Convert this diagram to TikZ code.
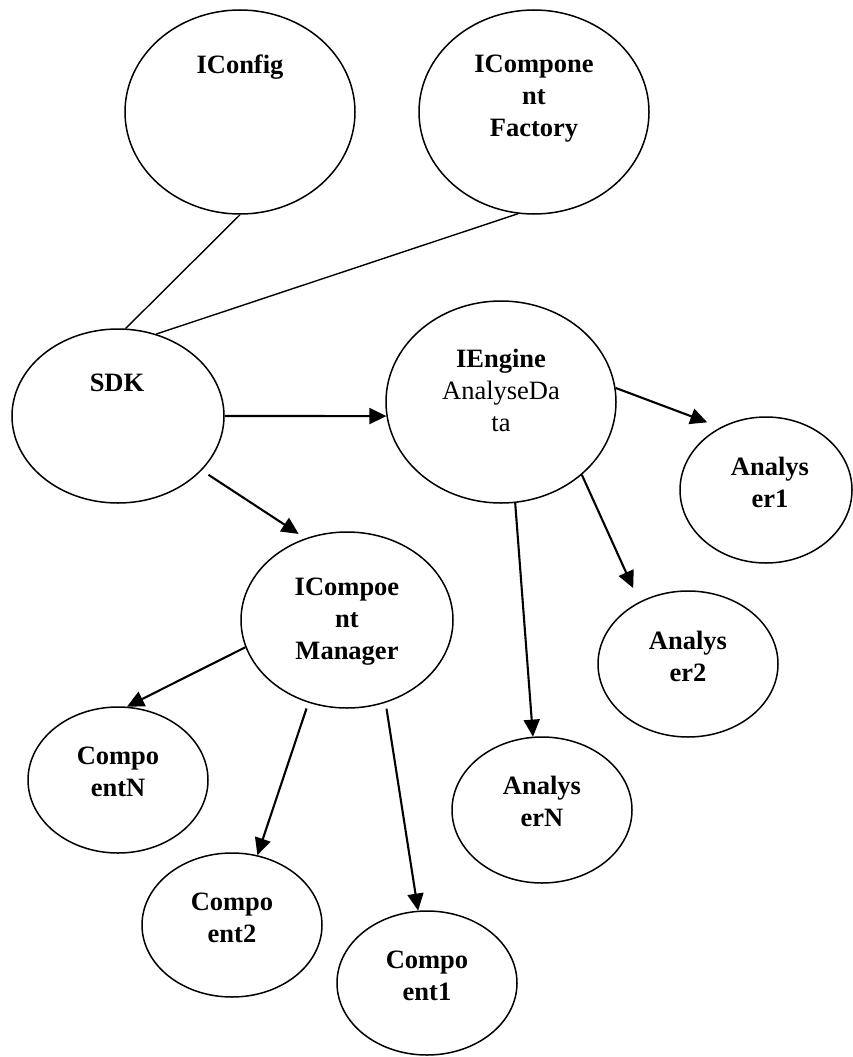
\documentclass[tikz,border=0pt]{standalone}
\usepackage{fontspec}
\setmainfont{Liberation Serif}
\usetikzlibrary{shapes.geometric,arrows.meta}

\tikzset{
  bubble/.style={draw, ellipse, inner sep=0pt, line width=1.5pt},
  tag/.style={align=center, inner sep=0pt, font=\fontsize{26.5}{32}\selectfont\bfseries},
  link/.style={line width=1.4pt},
  flow/.style={line width=2.1pt, -{Triangle[length=17pt,width=16pt]}}
}

\begin{document}
\begin{tikzpicture}[x=1pt,y=-1pt]
  \useasboundingbox (0,0) rectangle (852,1057);

  % interfaces and SDK core
  \node[bubble, minimum width=230pt, minimum height=204pt] (iconfig) at (240,112) {};
  \node[bubble, minimum width=230pt, minimum height=204pt] (factory) at (534,112) {};
  \node[bubble, minimum width=212pt, minimum height=174pt] (sdk)     at (118,416) {};
  \node[bubble, minimum width=230pt, minimum height=202pt] (iengine) at (501,402) {};
  \node[bubble, minimum width=212pt, minimum height=176pt] (mgr)     at (347,620) {};

  % analysers
  \node[bubble, minimum width=172pt, minimum height=146pt] (an1) at (766,490) {};
  \node[bubble, minimum width=180pt, minimum height=146pt] (an2) at (688,664) {};
  \node[bubble, minimum width=180pt, minimum height=146pt] (ann) at (542,810) {};

  % components
  \node[bubble, minimum width=180pt, minimum height=146pt] (cpn) at (118,780) {};
  \node[bubble, minimum width=180pt, minimum height=144pt] (cp2) at (232,925) {};
  \node[bubble, minimum width=180pt, minimum height=144pt] (cp1) at (427,983) {};

  % labels
  \node[tag] (t-iconfig) at (240,67)  {IConfig};
  \node[tag] (t-factory) at (534,99)  {ICompone\\nt\\Factory};
  \node[tag] (t-sdk)     at (117,383) {SDK};
  \node[tag] (t-iengine) at (501,390) {IEngine\\{\mdseries AnalyseDa}\\{\mdseries ta}};
  \node[tag] (t-mgr)     at (347,622) {ICompoe\\nt\\Manager};
  \node[tag] (t-an1)     at (770,482) {Analys\\er1};
  \node[tag] (t-an2)     at (688,656) {Analys\\er2};
  \node[tag] (t-ann)     at (542,801) {Analys\\erN};
  \node[tag] (t-cpn)     at (118,772) {Compo\\entN};
  \node[tag] (t-cp2)     at (232,918) {Compo\\ent2};
  \node[tag] (t-cp1)     at (427,976) {Compo\\ent1};

  % plain associations
  \draw[link] (iconfig.south) -- (sdk.85);
  \draw[link] (factory.261) -- (sdk.65);

  % directed relations
  \draw[flow] (sdk.east) -- (iengine.187);
  \draw[flow, shorten >=14pt] (iengine.7) -- (an1.126);
  \draw[flow, shorten >=15pt] (iengine.318) -- (an2.128);
  \draw[flow] (iengine.278) -- (ann.97);
  \draw[flow, shorten <=8pt, shorten >=8pt] (sdk.327) -- (mgr.117);
  \draw[flow] (mgr.195) -- (cpn.83);
  \draw[flow, shorten <=6pt] (mgr.245) -- (cp2.70);
  \draw[flow, shorten <=6pt] (mgr.295) -- (cp1.97);
\end{tikzpicture}
\end{document}
